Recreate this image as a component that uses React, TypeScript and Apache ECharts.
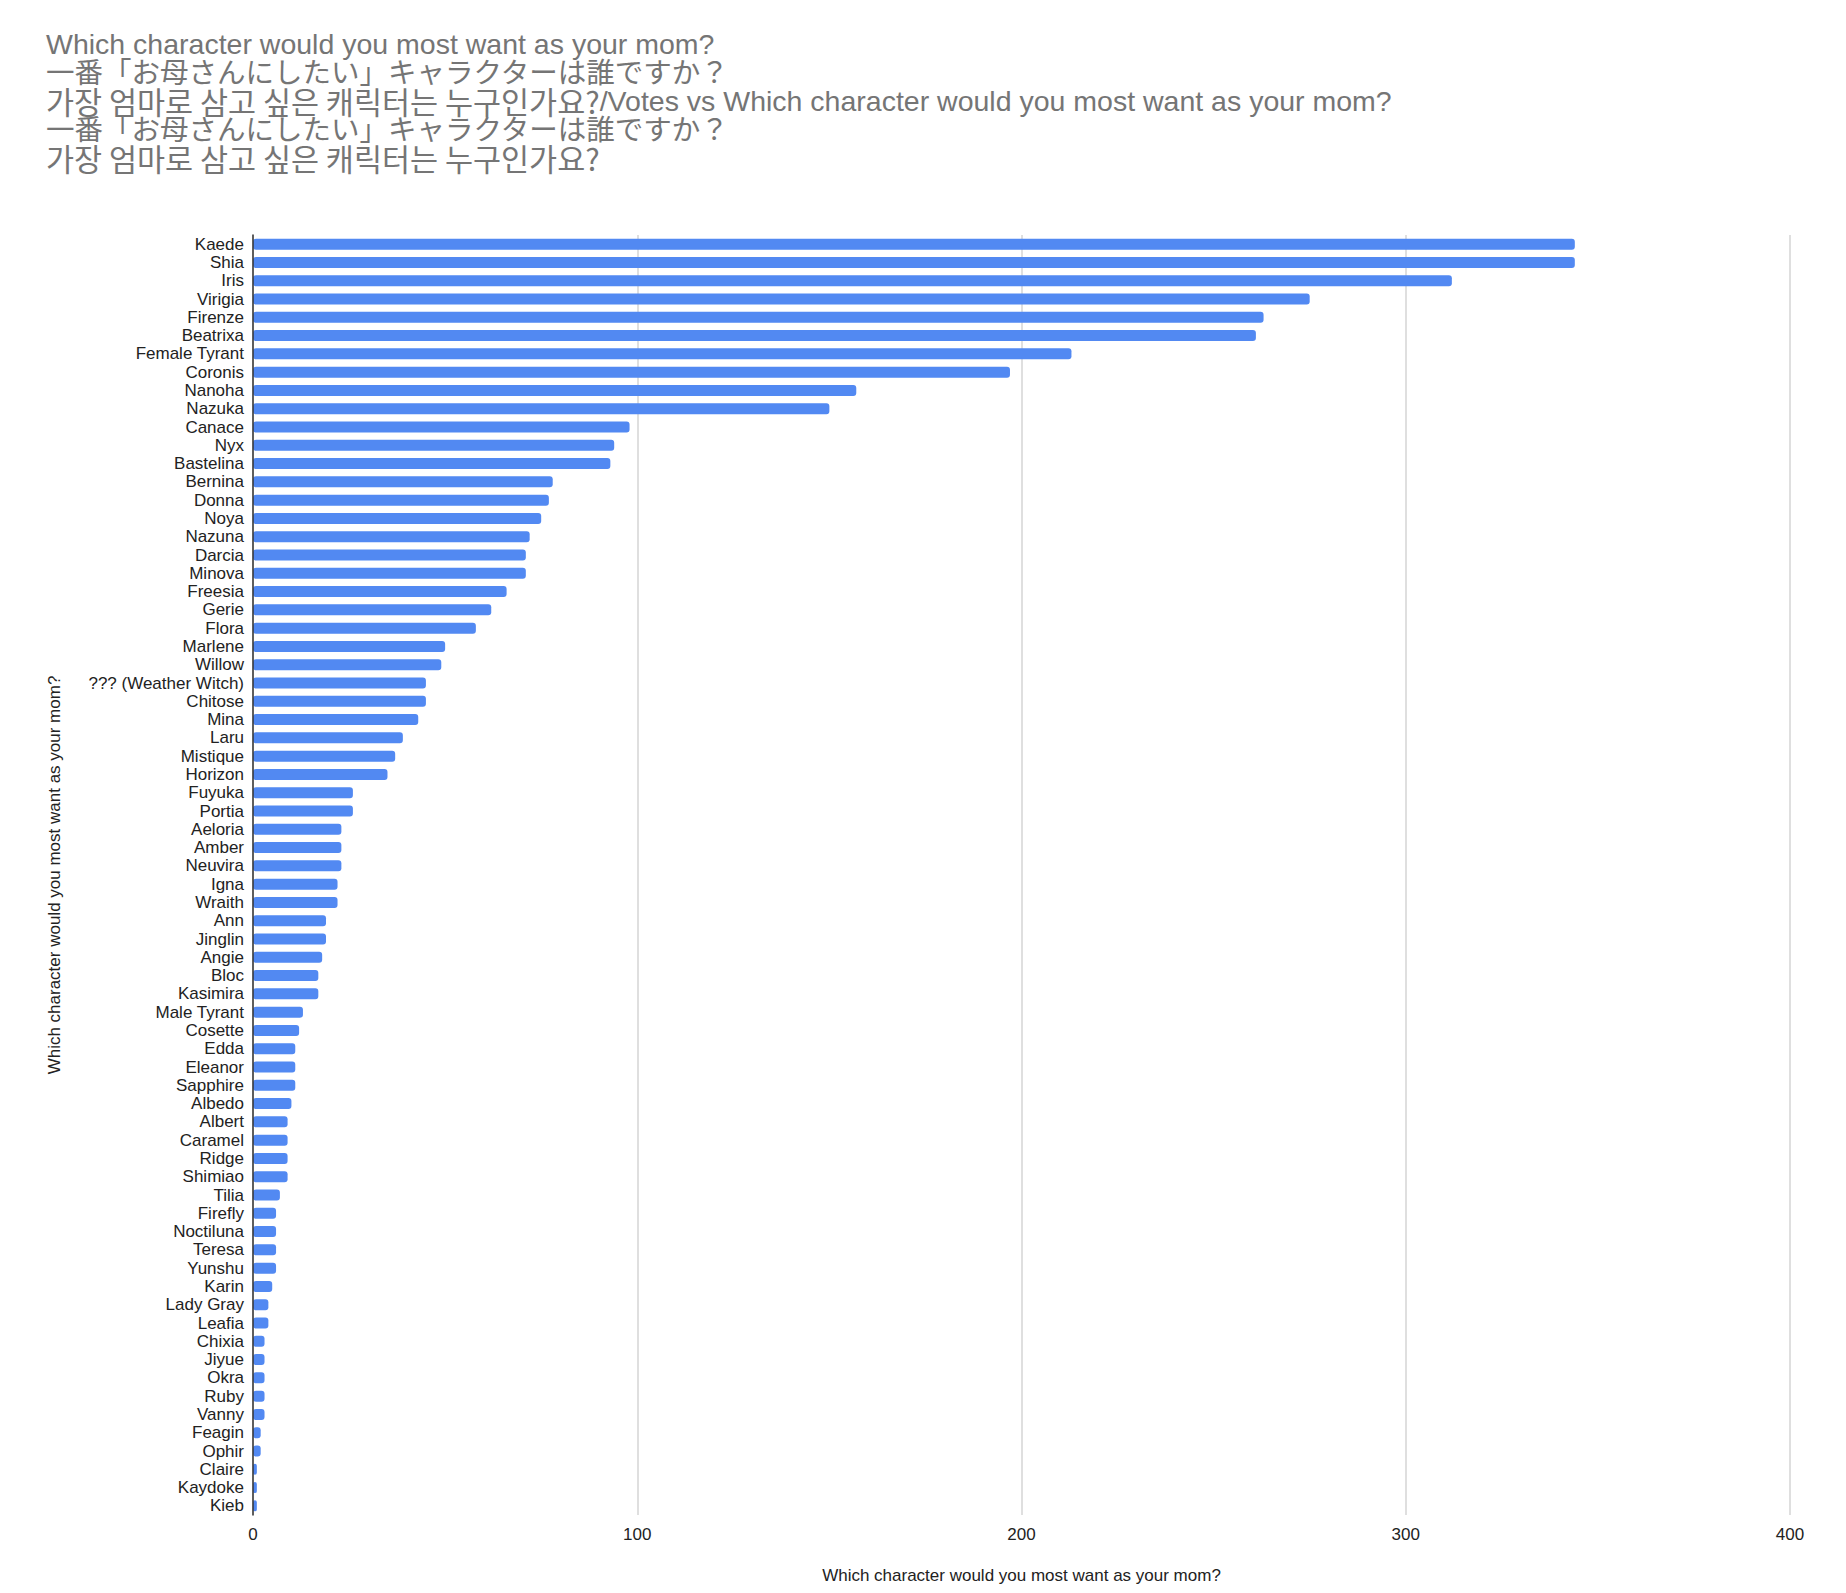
import React, { useEffect, useRef } from "react";
import * as echarts from "echarts";

const TITLE_LINES = [
  "Which character would you most want as your mom?",
  "一番「お母さんにしたい」キャラクターは誰ですか？",
  "{ko|가장 엄마로 삼고 싶은 캐릭터는 누구인가요?}/Votes vs Which character would you most want as your mom?",
  "一番「お母さんにしたい」キャラクターは誰ですか？",
  "{ko|가장 엄마로 삼고 싶은 캐릭터는 누구인가요?}",
];

const AXIS_NAME = "Which character would you most want as your mom?";

const CATEGORIES = [
  "Kaede", "Shia", "Iris", "Virigia", "Firenze", "Beatrixa", "Female Tyrant", "Coronis", "Nanoha", "Nazuka",
  "Canace", "Nyx", "Bastelina", "Bernina", "Donna", "Noya", "Nazuna", "Darcia", "Minova", "Freesia",
  "Gerie", "Flora", "Marlene", "Willow", "??? (Weather Witch)", "Chitose", "Mina", "Laru", "Mistique", "Horizon",
  "Fuyuka", "Portia", "Aeloria", "Amber", "Neuvira", "Igna", "Wraith", "Ann", "Jinglin", "Angie",
  "Bloc", "Kasimira", "Male Tyrant", "Cosette", "Edda", "Eleanor", "Sapphire", "Albedo", "Albert", "Caramel",
  "Ridge", "Shimiao", "Tilia", "Firefly", "Noctiluna", "Teresa", "Yunshu", "Karin", "Lady Gray", "Leafia",
  "Chixia", "Jiyue", "Okra", "Ruby", "Vanny", "Feagin", "Ophir", "Claire", "Kaydoke", "Kieb",
];

const VOTES = [
  344, 344, 312, 275, 263, 261, 213, 197, 157, 150,
  98, 94, 93, 78, 77, 75, 72, 71, 71, 66,
  62, 58, 50, 49, 45, 45, 43, 39, 37, 35,
  26, 26, 23, 23, 23, 22, 22, 19, 19, 18,
  17, 17, 13, 12, 11, 11, 11, 10, 9, 9,
  9, 9, 7, 6, 6, 6, 6, 5, 4, 4,
  3, 3, 3, 3, 3, 2, 2, 1, 1, 1,
];

const X_MIN = 0;
const X_MAX = 400;
const X_INTERVAL = 100;

const FONT = "'Liberation Sans', Arial, 'Noto Sans CJK JP', 'Noto Sans CJK KR', sans-serif";
const KO_FONT = "'Noto Sans CJK KR', 'Liberation Sans', sans-serif";

export default function App() {
  const ref = useRef<HTMLDivElement>(null);

  useEffect(() => {
    if (!ref.current) return;
    const chart = echarts.init(ref.current, undefined, { renderer: "svg" });
    chart.setOption({
      animation: false,
      backgroundColor: "#ffffff",
      textStyle: { fontFamily: FONT },
      title: {
        text: TITLE_LINES.join("\n"),
        left: 46,
        top: 30,
        padding: 0,
        textStyle: {
          fontFamily: FONT,
          fontSize: 28.5,
          lineHeight: 28.5,
          fontWeight: "normal",
          color: "#757575",
          rich: {
            ko: {
              fontFamily: KO_FONT,
              fontSize: 30.5,
              lineHeight: 28.5,
              color: "#757575",
            },
          },
        },
      },
      grid: { left: 253, right: 56, top: 235, bottom: 78, containLabel: false },
      xAxis: {
        type: "value",
        min: X_MIN,
        max: X_MAX,
        interval: X_INTERVAL,
        name: AXIS_NAME,
        nameLocation: "middle",
        nameGap: 52,
        nameTextStyle: { fontFamily: FONT, fontSize: 17, color: "#222222" },
        axisLine: { show: false },
        axisTick: { show: false },
        axisLabel: { fontFamily: FONT, fontSize: 17, color: "#222222", margin: 11 },
        splitLine: { show: true, lineStyle: { color: "#d4d4d4", width: 1.5 } },
      },
      yAxis: {
        type: "category",
        inverse: true,
        data: CATEGORIES,
        z: 5,
        name: AXIS_NAME,
        nameLocation: "middle",
        nameGap: 190,
        nameRotate: 90,
        nameTextStyle: { fontFamily: FONT, fontSize: 17, color: "#222222" },
        axisLine: { show: true, lineStyle: { color: "#333333", width: 1.5 } },
        axisTick: { show: false },
        axisLabel: { fontFamily: FONT, fontSize: 17, color: "#222222", margin: 9, interval: 0 },
        splitLine: { show: false },
      },
      series: [
        {
          type: "bar",
          data: VOTES,
          barCategoryGap: "40%",
          itemStyle: { color: "#5289f2", borderRadius: 3 },
        },
      ],
    });
    return () => chart.dispose();
  }, []);

  return (
    <div
      ref={ref}
      style={{ position: "absolute", left: 0, top: 0, width: 1846, height: 1593 }}
    />
  );
}
